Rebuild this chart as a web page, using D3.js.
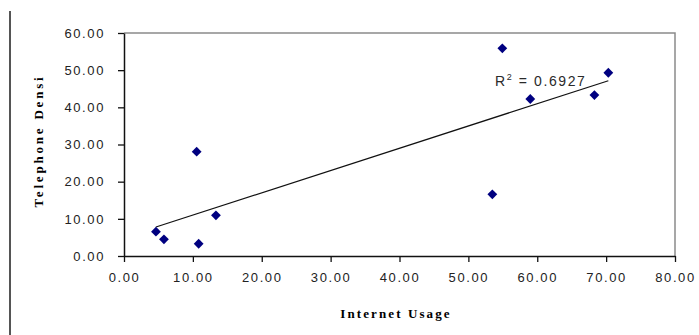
<!DOCTYPE html>
<html>
<head>
<meta charset="utf-8">
<script src="https://cdn.jsdelivr.net/npm/d3@7"></script>
<style>
  html, body { margin: 0; padding: 0; background: #fff; }
  svg { display: block; }
</style>
</head>
<body>
<svg id="chart" width="699" height="335"></svg>
<script>
// Internet usage (x) vs telephone density (y), one point per country
const internetUsage = [4.64, 5.80, 10.55, 10.84, 13.35, 53.48, 54.93, 58.99, 68.30, 70.32];
const telephoneDensity = [6.54, 4.50, 28.06, 3.30, 10.95, 16.60, 55.88, 42.24, 43.30, 49.30];
const xTicks = [0, 10, 20, 30, 40, 50, 60, 70, 80];
const yTicks = [0, 10, 20, 30, 40, 50, 60];
const rSquaredText = "0.6927";

const svg = d3.select("#chart");
const plotLeft = 124, plotRight = 675, plotTop = 33, plotBottom = 256;

const x = d3.scaleLinear().domain([0, 80]).range([plotLeft, plotRight]);
const y = d3.scaleLinear().domain([0, 60]).range([plotBottom, plotTop]);

// outer frame line on the left edge
svg.append("line")
  .attr("x1", 10).attr("x2", 10).attr("y1", 11).attr("y2", 335)
  .attr("stroke", "#555").attr("stroke-width", 2);

// plot area border (top and right in grey)
svg.append("path")
  .attr("d", `M${plotLeft},${plotTop}H${plotRight}V${plotBottom}`)
  .attr("fill", "none").attr("stroke", "#8a8a8a").attr("stroke-width", 1.5);

const fmt = d3.format(".2f");

const xAxis = svg.append("g")
  .attr("transform", `translate(0,${plotBottom})`)
  .call(d3.axisBottom(x).tickValues(xTicks).tickFormat(fmt).tickSize(6).tickPadding(11).tickSizeOuter(0));
const yAxis = svg.append("g")
  .attr("transform", `translate(${plotLeft},0)`)
  .call(d3.axisLeft(y).tickValues(yTicks).tickFormat(fmt).tickSize(6).tickPadding(13).tickSizeOuter(0));

[xAxis, yAxis].forEach(g => {
  g.select(".domain").attr("stroke", "#111").attr("stroke-width", 1.5);
  g.selectAll(".tick line").attr("stroke", "#111").attr("stroke-width", 1.3);
  g.selectAll(".tick text")
    .attr("fill", "#222")
    .style("font-family", "Arial, 'Liberation Sans', sans-serif")
    .style("font-size", "13px")
    .style("letter-spacing", "1.6px");
});

// least-squares trend line over the data range
const n = internetUsage.length;
const mx = d3.mean(internetUsage), my = d3.mean(telephoneDensity);
let sxy = 0, sxx = 0;
for (let i = 0; i < n; i++) {
  sxy += (internetUsage[i] - mx) * (telephoneDensity[i] - my);
  sxx += (internetUsage[i] - mx) ** 2;
}
const slope = sxy / sxx, intercept = my - slope * mx;
const [xmin, xmax] = d3.extent(internetUsage);
svg.append("line")
  .attr("x1", x(xmin)).attr("y1", y(intercept + slope * xmin))
  .attr("x2", x(xmax)).attr("y2", y(intercept + slope * xmax))
  .attr("stroke", "#111").attr("stroke-width", 1.2);

// data points as square diamonds
const diamond = d3.symbol().type(d3.symbolSquare).size(48);
svg.append("g").selectAll("path")
  .data(internetUsage.map((v, i) => [v, telephoneDensity[i]]))
  .join("path")
  .attr("d", diamond)
  .attr("transform", d => `translate(${x(d[0])},${y(d[1])}) rotate(45)`)
  .attr("fill", "#000080");

// R² annotation
const rt = svg.append("text")
  .attr("x", 495).attr("y", 86)
  .attr("fill", "#2a2a2a")
  .style("font-family", "Arial, 'Liberation Sans', sans-serif")
  .style("font-size", "14px")
  .style("letter-spacing", "1.6px");
rt.append("tspan").text("R");
rt.append("tspan").attr("dy", -6).style("font-size", "9px").text("2");
rt.append("tspan").attr("dy", 6).text(" = " + rSquaredText);

// axis titles
svg.append("text")
  .attr("x", 396).attr("y", 318)
  .attr("text-anchor", "middle")
  .style("font-family", "'Liberation Serif', 'Times New Roman', serif")
  .style("font-weight", "bold")
  .style("font-size", "13px")
  .style("letter-spacing", "2.1px")
  .text("Internet Usage");

svg.append("text")
  .attr("transform", "translate(43,141) rotate(-90)")
  .attr("text-anchor", "middle")
  .style("font-family", "'Liberation Serif', 'Times New Roman', serif")
  .style("font-weight", "bold")
  .style("font-size", "13px")
  .style("letter-spacing", "2.8px")
  .text("Telephone Densi");
</script>
</body>
</html>
